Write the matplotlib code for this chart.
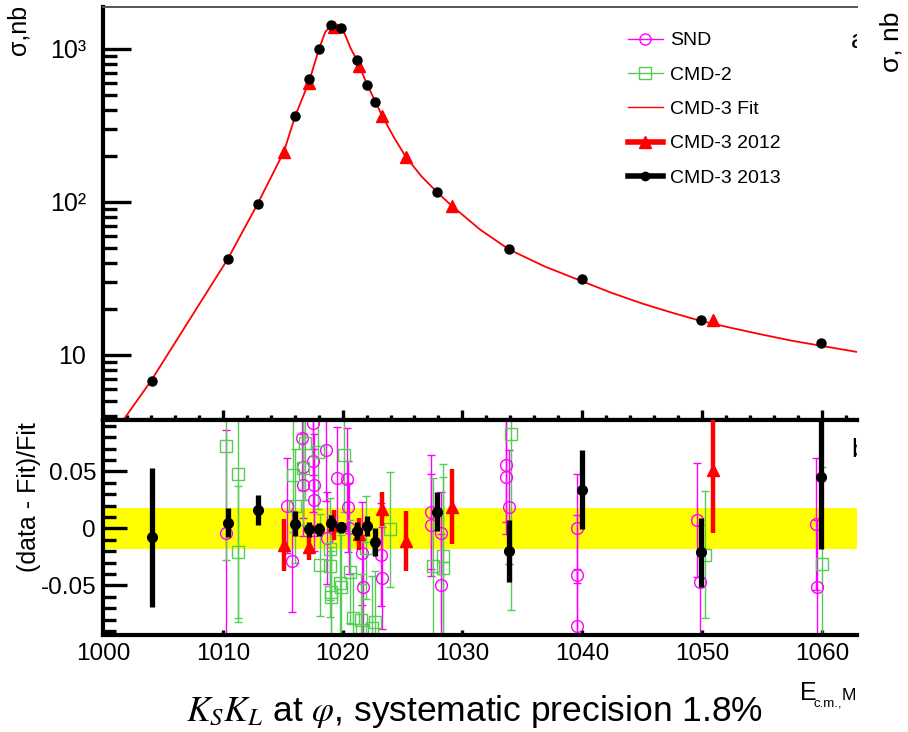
import numpy as np
import matplotlib
matplotlib.use('Agg')
import matplotlib.pyplot as plt
from matplotlib.lines import Line2D
from matplotlib.ticker import FixedLocator, FixedFormatter, LogLocator, MultipleLocator, NullFormatter

plt.rcParams['font.family'] = ['Liberation Sans', 'DejaVu Sans']

# CMD-3 fit curve (E in MeV, sigma in nb)
fit_e = [1001.8, 1004.0, 1007.2, 1010.4, 1012.9, 1015.1, 1016.05, 1017.2, 1018.03, 1018.55,
         1019.0, 1019.45, 1019.85, 1020.2, 1020.7, 1021.2, 1022.05, 1022.75, 1023.3, 1024.3,
         1025.3, 1026.6, 1027.9, 1029.1, 1031.5, 1033.9, 1036.9, 1040.0, 1042.5, 1045.0,
         1047.5, 1049.9, 1052.5, 1055.0, 1057.5, 1059.9, 1063.0]
fit_s = [3.86, 6.76, 16.9, 42.2, 97, 213, 366, 611, 1000, 1290,
         1420, 1452, 1400, 1240, 1000, 843, 585, 451, 365, 263,
         196, 146.6, 115.6, 94.6, 65.8, 48.9, 37.8, 30.3, 25.4, 21.7,
         18.9, 16.7, 15.0, 13.6, 12.4, 11.5, 10.45]

# CMD-3 2013 (black)
c13_e = [1004.06, 1010.4, 1012.9, 1016.05, 1017.17, 1018.03, 1019.06, 1019.85, 1021.2, 1022.05,
         1022.73, 1027.9, 1033.85, 1039.97, 1049.9, 1059.95]
c13_s = [6.76, 42.2, 97, 366, 634, 1000, 1429, 1372, 843, 585,
         451, 115.6, 49.3, 31.4, 16.9, 12.0]
c13_dev = [-0.008, 0.005, 0.016, 0.004, -0.001, -0.001, 0.005, 0.001, -0.002, 0.002,
           -0.012, 0.0147, -0.020, 0.034, -0.021, 0.045]
c13_err = [0.061, 0.013, 0.013, 0.011, 0.007, 0.006, 0.007, 0.005, 0.008, 0.009,
           0.012, 0.017, 0.027, 0.035, 0.030, 0.063]

# CMD-3 2012 (red)
c12_e = [1015.07, 1017.2, 1019.3, 1021.34, 1023.26, 1025.3, 1029.1, 1050.9]
c12_s = [213, 597, 1387, 774, 365, 196, 94.6, 16.9]
c12_dev = [-0.0145, -0.016, 0.003, -0.005, 0.017, -0.011, 0.019, 0.051]
c12_err = [0.023, 0.012, 0.013, 0.014, 0.015, 0.026, 0.033, 0.055]

# SND (magenta)
snd_e = [1010.27, 1015.39, 1015.75, 1016.62, 1016.66, 1016.70, 1017.54, 1017.56, 1017.60, 1017.62,
         1018.61, 1018.73, 1019.50, 1020.38, 1020.42, 1020.56, 1021.66, 1021.70, 1023.24, 1023.28,
         1027.35, 1027.38, 1028.2, 1028.22, 1033.6, 1033.62, 1033.85, 1039.55, 1039.6, 1039.58,
         1049.6, 1049.8, 1059.5, 1059.6]
snd_dev = [-0.004, 0.020, -0.029, 0.079, 0.054, 0.038, 0.092, 0.059, 0.038, 0.025,
           0.069, -0.0085, 0.044, 0.043, 0.019, 0.000, -0.022, -0.051, -0.023, -0.0435,
           0.0147, 0.003, -0.004, -0.0496, 0.0557, 0.045, 0.0186, 0.000, -0.041, -0.0855,
           0.0075, -0.0467, 0.0037, -0.051]
snd_err = [0.09, 0.042, 0.044, 0.045, 0.045, 0.045, 0.045, 0.045, 0.045, 0.045,
           0.045, 0.04, 0.045, 0.045, 0.04, 0.04, 0.045, 0.045, 0.045, 0.045,
           0.05, 0.045, 0.036, 0.045, 0.05, 0.05, 0.05, 0.048, 0.053, 0.05,
           0.05, 0.05, 0.058, 0.058]

# CMD-2 (green)
cmd2_e = [1010.24, 1011.24, 1011.3, 1015.88, 1016.0, 1016.7, 1016.9, 1017.97, 1018.11, 1018.93,
          1018.95, 1019.0, 1019.05, 1019.75, 1019.9, 1020.1, 1020.64, 1020.84, 1021.5, 1021.6,
          1021.93, 1022.45, 1022.68, 1023.96, 1027.57, 1028.38, 1028.42, 1034.05, 1050.25, 1060.0]
cmd2_dev = [0.072, 0.0475, -0.021, 0.047, 0.020, 0.053, 0.075, 0.067, -0.032, -0.018,
            -0.033, -0.056, -0.060, -0.048, -0.051, 0.064, -0.038, -0.079, -0.080, -0.089,
            -0.017, -0.087, -0.082, -0.001, -0.033, -0.024, -0.035, 0.083, -0.023, -0.031]
cmd2_err = [0.10, 0.13, 0.058, 0.05, 0.05, 0.05, 0.05, 0.05, 0.045, 0.045,
            0.045, 0.04, 0.04, 0.045, 0.045, 0.05, 0.045, 0.04, 0.04, 0.04,
            0.045, 0.045, 0.045, 0.05, 0.077, 0.08, 0.08, 0.155, 0.056, 0.085]

syst = 0.018

W, H = 908, 732
fig = plt.figure(figsize=(W / 100, H / 100), dpi=100)
L, R = 103, 857
ax1 = fig.add_axes([L / W, 1 - 420 / H, (R - L) / W, 413 / H])
ax2 = fig.add_axes([L / W, 1 - 635 / H, (R - L) / W, 215 / H], sharex=ax1)

magenta = '#ff00ff'
green = '#55cc55'

# top panel
ax1.plot(fit_e, fit_s, color='red', lw=1.3, zorder=2)
ax1.plot(c12_e, c12_s, '^', color='red', ms=9, zorder=3)
ax1.plot(c13_e, c13_s, 'o', color='black', ms=6.5, zorder=4)
ax1.set_yscale('log')
ax1.set_xlim(1000, 1000 + (R - L) / 11.98)
ax1.set_ylim(3.76, 1880)
ax1.yaxis.set_major_locator(FixedLocator([10, 100, 1000]))
ax1.yaxis.set_major_formatter(FixedFormatter(['10', '10²', '10³']))
ax1.yaxis.set_minor_locator(LogLocator(base=10, subs=range(2, 10)))
ax1.yaxis.set_minor_formatter(NullFormatter())
ax1.xaxis.set_major_locator(MultipleLocator(10))
ax1.xaxis.set_minor_locator(MultipleLocator(2))
ax1.tick_params(axis='y', which='major', direction='in', length=20, width=2.4, labelsize=18, pad=12)
ax1.tick_params(axis='y', which='minor', direction='in', length=10, width=2.4)
ax1.tick_params(axis='x', which='major', direction='in', length=7, width=2.4, labelbottom=False)
ax1.tick_params(axis='x', which='minor', direction='in', length=3.5, width=2.4)
ax1.spines['right'].set_visible(False)
ax1.spines['top'].set_color('#555555')
ax1.spines['top'].set_linewidth(1.4)
ax1.spines['left'].set_linewidth(3)
ax1.spines['bottom'].set_linewidth(3)
ax1.text(1062.4, 1120, 'a', fontsize=19, va='center', ha='left', clip_on=True)

handles = [
    Line2D([], [], color=magenta, marker='o', mfc='none', ms=8, lw=1),
    Line2D([], [], color=green, marker='s', mfc='none', ms=8, lw=1),
    Line2D([], [], color='red', lw=1),
    Line2D([], [], color='red', marker='^', ms=9, lw=4),
    Line2D([], [], color='black', marker='o', ms=6, lw=4),
]
labels = ['SND', 'CMD-2', 'CMD-3 Fit', 'CMD-3 2012', 'CMD-3 2013']
ax1.legend(handles, labels, loc='upper left', bbox_to_anchor=(618 / W, 1 - 22 / H),
           bbox_transform=fig.transFigure, frameon=False, fontsize=14,
           handlelength=1.8, handletextpad=0.36, labelspacing=0.86, borderpad=0)

# bottom panel
ax2.axhspan(-syst, syst, color='#ffff00', lw=0, zorder=0)
ax2.errorbar(snd_e, snd_dev, yerr=snd_err, fmt='o', mfc='none', mec=magenta, color=magenta,
             ms=8.5, mew=1, elinewidth=1, capsize=3, capthick=1, zorder=2)
ax2.errorbar(cmd2_e, cmd2_dev, yerr=cmd2_err, fmt='s', mfc='none', mec=green, color=green,
             ms=8, mew=1, elinewidth=1, capsize=3, capthick=1, zorder=2)
ax2.errorbar(c12_e, c12_dev, yerr=c12_err, fmt='^', color='red', ms=9, elinewidth=3.2,
             capsize=0, zorder=3)
ax2.errorbar(c13_e, c13_dev, yerr=c13_err, fmt='o', color='black', ms=7, elinewidth=3.8,
             capsize=0, zorder=4)
ax2.set_ylim(-0.0935, 0.095)
ax2.yaxis.set_major_locator(FixedLocator([-0.05, 0, 0.05]))
ax2.yaxis.set_major_formatter(FixedFormatter(['-0.05', '0', '0.05']))
ax2.yaxis.set_minor_locator(MultipleLocator(0.01))
ax2.set_xticks([1000, 1010, 1020, 1030, 1040, 1050, 1060])
ax2.set_xticklabels(['1000', '1010', '1020', '1030', '1040', '1050', '1060'])
ax2.tick_params(axis='y', which='major', direction='in', length=17, width=2.4, labelsize=17.5, pad=5)
ax2.tick_params(axis='y', which='minor', direction='in', length=9, width=2.4)
ax2.tick_params(axis='x', which='major', direction='in', length=3.5, width=2.4, labelsize=17.5, pad=6)
ax2.tick_params(axis='x', which='minor', length=0)
ax2.spines['right'].set_visible(False)
for s in ['left', 'top', 'bottom']:
    ax2.spines[s].set_linewidth(3)
ax2.text(1062.5, 0.069, 'b', fontsize=19, va='center', ha='left', clip_on=True)

# axis titles
fig.text(18 / W, 1 - 5 / H, 'σ,nb', rotation=90, ha='center', va='top', fontsize=18)
fig.text(29 / W, 1 - 422 / H, '(data - Fit)/Fit', rotation=90, ha='center', va='top', fontsize=18)
fig.text(892 / W, 1 - 12 / H, 'σ, nb', rotation=90, ha='center', va='top', fontsize=19)

fig.text(800 / W, 1 - 700 / H, 'E', ha='left', va='baseline', fontsize=18)
fig.text(813 / W, 1 - 706 / H, 'c.m.,', ha='left', va='baseline', fontsize=9.5)
fig.text(842 / W, 1 - 700 / H, 'M', ha='left', va='baseline', fontsize=12.5)

fig.text(474 / W, 1 - 712 / H, r'$K_SK_L$ at $\varphi$, systematic precision 1.8%', ha='center', va='center',
         fontsize=25.5, math_fontfamily='stix')

fig.savefig('out.png', dpi=100)
